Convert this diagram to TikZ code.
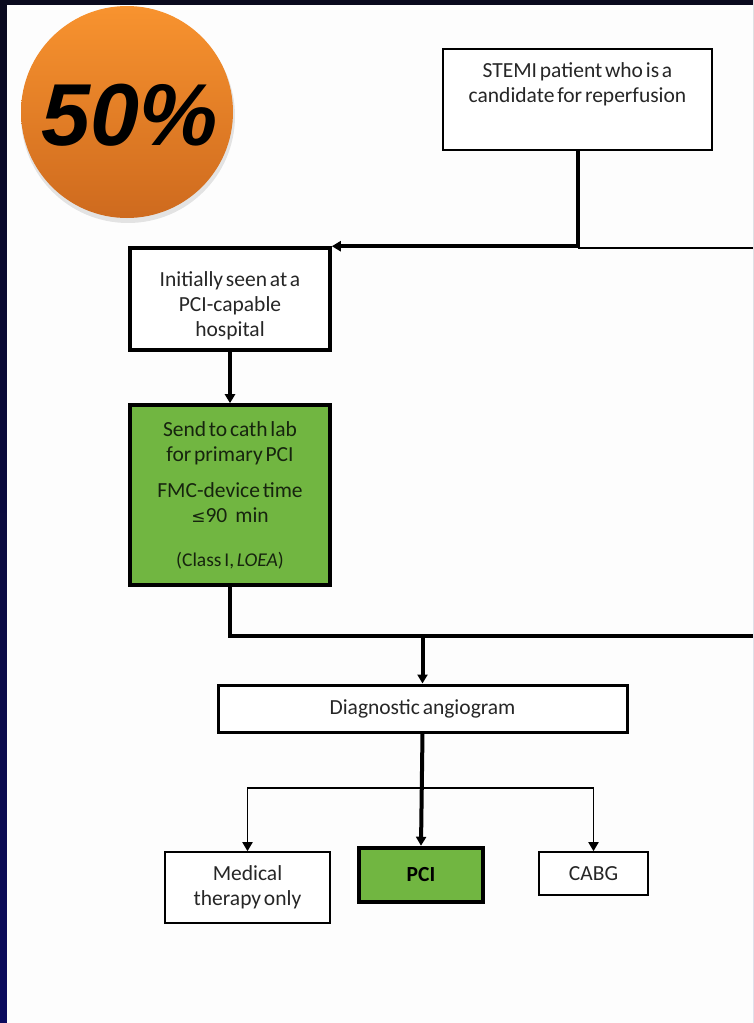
\documentclass[tikz,border=0pt]{standalone}
\usepackage{fontspec}
\setmainfont{Carlito}
\newfontfamily\badgefont{Liberation Sans}
\usetikzlibrary{arrows.meta}
\definecolor{navytop}{HTML}{0A0A1E}
\definecolor{navybot}{HTML}{0B0B5E}
\definecolor{panel}{HTML}{FDFDFD}
\definecolor{orangetop}{HTML}{F8932F}
\definecolor{orangebot}{HTML}{CE6A1E}
\definecolor{boxgreen}{HTML}{71B641}
\definecolor{txt}{HTML}{262626}
\definecolor{gtxt}{HTML}{16240E}
\newcommand{\boxfont}{\fontsize{21.5}{25}\selectfont\spaceskip=2.8pt\relax\xspaceskip=2.8pt\relax}
\tikzset{
  box/.style={draw=black, fill=white, line width=1.6pt, align=center, inner sep=0pt,
    text=txt, font=\boxfont},
  heavybox/.style={box, line width=3.6pt},
  greenbox/.style={heavybox, fill=boxgreen, text=gtxt},
  heavyline/.style={line width=4pt},
  lightline/.style={line width=1.8pt},
  arr/.style={-{Triangle[length=9pt,width=10pt]}},
}
\begin{document}
\begin{tikzpicture}[x=1pt,y=-1pt]
\useasboundingbox (0,0) rectangle (753,1023);
% background
\shade[top color=navytop, bottom color=navybot] (0,0) rectangle (753,1023);
\fill[panel] (7,5) rectangle (753,1023);
% badge
\fill[black, opacity=0.10] (128,116) circle (107);
\shade[top color=orangetop, bottom color=orangebot] (127,112) circle (106);
\node[font=\badgefont\bfseries\itshape\fontsize{88}{88}\selectfont, text=black] (badge) at (130,115) {50\%};
% nodes
\node[box, minimum width=269pt, minimum height=101pt, anchor=north] (stemi) at (577.5,48)
  {\parbox[c][101pt][t]{262pt}{\centering\boxfont\vspace{14pt}STEMI patient who is a\\candidate for reperfusion}};
\node[heavybox, minimum width=200pt, minimum height=102pt] (init) at (230,299)
  {\rule{0pt}{28pt}Initially seen at a\\PCI-capable\\hospital};
\node[greenbox, minimum width=200pt, minimum height=180pt] (green) at (230,495)
  {Send to cath lab\\for primary PCI\\[11pt]FMC-device time\\{\fontspec{DejaVu Sans}\fontsize{17}{20}\selectfont ≤}90\hspace{8pt}min\\[19pt]{\fontsize{19.5}{20}\selectfont (Class I, \textit{LOEA})}};
\node[heavybox, line width=3pt, minimum width=409pt, minimum height=47pt] (diag) at (422.5,708.5)
  {Diagnostic angiogram};
\node[box, minimum width=165pt, minimum height=71pt] (med) at (247.5,887.5)
  {Medical\\therapy only};
\node[heavybox, line width=4.5pt, fill=boxgreen, text=black, minimum width=124pt, minimum height=54pt] (pci) at (421,875)
  {\bfseries PCI};
\node[box, minimum width=109pt, minimum height=43pt] (cabg) at (593.5,873.5)
  {CABG};
% connectors
\coordinate (r1) at (753,248);
\coordinate (r2) at (753,636);
\coordinate (split) at (0,788);
\draw[lightline] (stemi.south |- r1) -- (r1);
\draw[heavyline, arr] (stemi.south) |- (init.north east);
\draw[heavyline, arr] (init.south) -- (green.north);
\draw[heavyline] (green.south) |- (r2);
\draw[heavyline, arr] (diag.north |- r2) -- (diag.north);
\draw[heavyline, arr] (diag.south) -- (pci.north);
\draw[lightline, arr] (diag.south |- split) -| (med.north);
\draw[lightline, arr] (diag.south |- split) -| (cabg.north);
\end{tikzpicture}
\end{document}
